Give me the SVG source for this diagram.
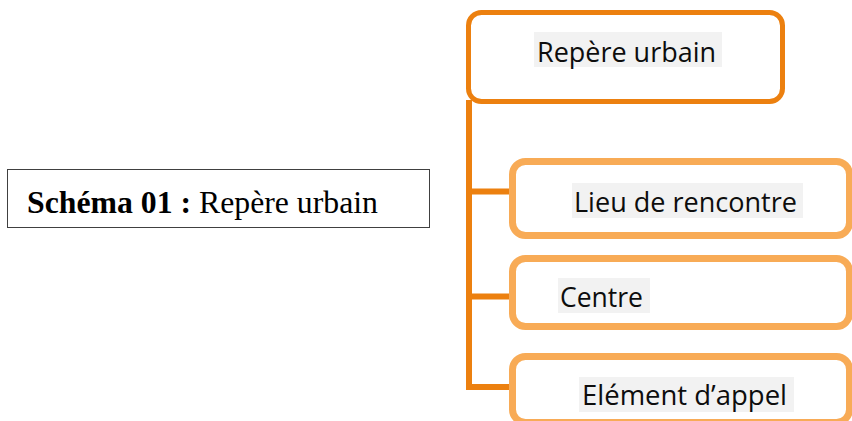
<svg xmlns="http://www.w3.org/2000/svg" width="852" height="421" viewBox="0 0 852 421">
  <style>
    .lbl { font-family: "Open Sans", "Noto Sans", sans-serif; font-size: 28px; fill: #0d0d0d; }
    .hl { fill: #f2f2f2; }
    .main { fill: #ffffff; stroke: #ec800f; stroke-width: 5; }
    .sub { fill: #ffffff; stroke: #f8ab56; stroke-width: 7; }
    .conn { stroke: #ec800f; stroke-width: 6; fill: none; }
  </style>
  <rect width="852" height="421" fill="#ffffff"/>
  <g id="caption">
    <rect x="7.5" y="169.5" width="422" height="58" fill="#ffffff" stroke="#404040" stroke-width="1"/>
    <text x="27" y="213" font-family="'Liberation Serif', 'Times New Roman', serif" font-size="32" fill="#000000" textLength="351" lengthAdjust="spacingAndGlyphs"><tspan font-weight="bold">Schéma 01 :</tspan> Repère urbain</text>
  </g>
  <g id="connectors">
    <path class="conn" d="M469 100 V387 H513"/>
    <path class="conn" d="M469 191.5 H513"/>
    <path class="conn" d="M469 296.5 H513"/>
  </g>
  <g id="node-repere">
    <rect class="main" x="468.5" y="12.5" width="314" height="89" rx="13"/>
    <rect class="hl" x="534" y="32" width="188" height="35"/>
    <text class="lbl" x="537" y="62" textLength="179" lengthAdjust="spacingAndGlyphs">Repère urbain</text>
  </g>
  <g id="node-lieu">
    <rect class="sub" x="512.5" y="161.5" width="337" height="74" rx="13"/>
    <rect class="hl" x="572" y="183" width="231" height="35"/>
    <text class="lbl" x="574" y="212" textLength="223" lengthAdjust="spacingAndGlyphs">Lieu de rencontre</text>
  </g>
  <g id="node-centre">
    <rect class="sub" x="512.5" y="258.5" width="337" height="68" rx="13"/>
    <rect class="hl" x="558" y="278" width="92" height="35"/>
    <text class="lbl" x="560" y="307" textLength="83" lengthAdjust="spacingAndGlyphs">Centre</text>
  </g>
  <g id="node-element">
    <rect class="sub" x="512.5" y="356.5" width="337" height="66" rx="13"/>
    <rect class="hl" x="579" y="377" width="215" height="35"/>
    <text class="lbl" x="582" y="405" textLength="205" lengthAdjust="spacingAndGlyphs">Elément d’appel</text>
  </g>
</svg>
